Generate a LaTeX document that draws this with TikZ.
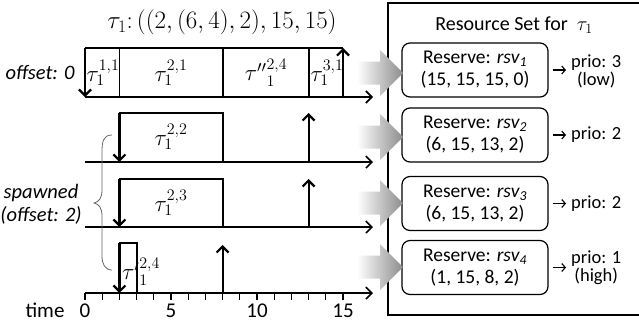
\RequirePackage{fix-cm}
\documentclass[tikz,border=0pt]{standalone}
\usepackage{fontspec}
\setmainfont{Carlito}
\usetikzlibrary{arrows.meta}
\begin{document}
\begin{tikzpicture}[x=1pt,y=-1pt,
  font=\fontsize{18}{22}\selectfont,
  box/.style={line width=1.8pt},
  evt/.style={line width=2.2pt,-{Straight Barb[length=6pt,width=12pt]}},
  axisline/.style={line width=1.6pt,-{Straight Barb[length=6pt,width=12pt]}},
  tick/.style={line width=1.2pt},
  rsv/.style={draw,rounded corners=8pt,line width=1.2pt,minimum width=146pt,minimum height=54pt,align=center,inner sep=1pt,font=\fontsize{19.5}{22}\selectfont},
  mlbl/.style={font=\fontsize{23}{24}\selectfont,inner sep=0pt},
  side/.style={font=\fontsize{20.5}{23}\selectfont\itshape,align=center,inner sep=0pt},
  prio/.style={anchor=west,align=center,inner sep=0pt,font=\fontsize{18.5}{18}\selectfont},
  prioarrow/.style={line width=1.1pt,-{Straight Barb[length=3.5pt,width=8pt]}},
  bigarrow/.style={left color=white,right color=black!45}]
\useasboundingbox (0,0) rectangle (639,325);

% title
\node[font=\fontsize{25}{26}\selectfont,inner sep=0pt] (title) at (222,22) {$\tau_1{:}\,((2,(6,4),2),15,15)$};

% ---------- row 1 ----------
\coordinate (r1s) at (85,97);
\coordinate (r1e) at (373,97);
\coordinate (r1t0) at (85,48);
\coordinate (r1t15) at (343,48);
\coordinate (r1b15) at (343,97);
\draw[box] (r1t0) -- (r1t15);
\foreach \t in {2,8,13}{
  \draw[box] ({85+17.2*\t},48) -- ({85+17.2*\t},97);
}
\draw[axisline] (r1s) -- (r1e);
\draw[evt] (r1t0) -- (r1s);
\draw[evt] (r1b15) -- (r1t15);
\node[mlbl] (j11) at (103,73) {$\tau_1^{1,1}$};
\node[mlbl] (j21) at (171,73) {$\tau_1^{2,1}$};
\node[mlbl] (j24b) at (266,73) {${\tau''}^{2,4}_1$};
\node[mlbl] (j31) at (327,73) {$\tau_1^{3,1}$};
\node[side] (off0) at (40,72) {offset: 0};

% ---------- row 2 ----------
\coordinate (r2s) at (85,162);
\coordinate (r2e) at (373,162);
\coordinate (r2a) at (119.4,113);
\coordinate (r2b) at (119.4,162);
\coordinate (r2u0) at (308.6,162);
\coordinate (r2u1) at (308.6,113);
\draw[box] (r2a) -- (222.6,113) -- (222.6,162);
\draw[axisline] (r2s) -- (r2e);
\draw[evt] (r2a) -- (r2b);
\draw[evt] (r2u0) -- (r2u1);
\node[mlbl] (j22) at (171,137) {$\tau_1^{2,2}$};

% ---------- row 3 ----------
\coordinate (r3s) at (85,227);
\coordinate (r3e) at (373,227);
\coordinate (r3a) at (119.4,179);
\coordinate (r3b) at (119.4,227);
\coordinate (r3u0) at (308.6,227);
\coordinate (r3u1) at (308.6,179);
\draw[box] (r3a) -- (222.6,179) -- (222.6,227);
\draw[axisline] (r3s) -- (r3e);
\draw[evt] (r3a) -- (r3b);
\draw[evt] (r3u0) -- (r3u1);
\node[mlbl] (j23) at (171,203) {$\tau_1^{2,3}$};

% ---------- row 4 / time axis ----------
\coordinate (r4s) at (85,293);
\coordinate (r4e) at (373,293);
\coordinate (r4a) at (119.4,243);
\coordinate (r4b) at (119.4,293);
\coordinate (r4u0) at (222.6,293);
\coordinate (r4u1) at (222.6,245);
\draw[box] (r4a) -- (136.6,243) -- (136.6,293);
\draw[axisline] (r4s) -- (r4e);
\foreach \t in {0,...,15}{
  \draw[tick] ({85+17.2*\t},293) -- ({85+17.2*\t},300);
}
\draw[evt] (r4a) -- (r4b);
\draw[evt] (r4u0) -- (r4u1);
\node[mlbl] (j24a) at (141,272) {${\tau'}^{2,4}_1$};
\foreach \t in {0,5,10,15}{
  \node[font=\fontsize{21}{22}\selectfont] (n\t) at ({85+17.2*\t},311) {\t};
}
\node[font=\fontsize{21}{22}\selectfont] (time) at (45,310) {time};

% spawned brace
\node[side] (spawn) at (41,204) {spawned\\(offset: 2)};
\draw[black!60,line width=0.8pt] (112,135) .. controls (103,135) and (102,142) .. (102,152)
  -- (102,190) .. controls (102,198) and (99,202) .. (94,203)
  .. controls (99,204) and (102,208) .. (102,216)
  -- (102,256) .. controls (102,264) and (105,270) .. (112,270);

% ---------- resource set ----------
\draw[line width=1.2pt] (388,3) rectangle (650,315);
\node[font=\fontsize{20}{22}\selectfont] (rstitle) at (514,25) {Resource Set for \ $\tau_1$};

\node[rsv] (rsv1) at (475,70) {Reserve: \textit{rsv\textsubscript{1}}\\(15, 15, 15, 0)};
\node[rsv] (rsv2) at (475,135) {Reserve: \textit{rsv\textsubscript{2}}\\(6, 15, 13, 2)};
\node[rsv] (rsv3) at (475,203.5) {Reserve: \textit{rsv\textsubscript{3}}\\(6, 15, 13, 2)};
\node[rsv] (rsv4) at (475,267.5) {Reserve: \textit{rsv\textsubscript{4}}\\(1, 15, 8, 2)};

\node[prio] (p1) at (571,71) {prio: 3\\(low)};
\node[prio] (p2) at (571,135) {prio: 2};
\node[prio] (p3) at (571,203.5) {prio: 2};
\node[prio] (p4) at (571,267.5) {prio: 1\\(high)};
\foreach \i in {1,2,3,4}{
  \draw[prioarrow] ([xshift=4pt]rsv\i.east) -- ([xshift=-5pt]p\i.west |- rsv\i.east);
}

% big gray arrows
\foreach \c/\r in {73/1,137/2,203/3,267/4}{
  \shade[bigarrow] (357,{\c-11.5}) -- (380,{\c-11.5}) -- (380,{\c-23}) -- (403,\c)
    -- (380,{\c+23}) -- (380,{\c+11.5}) -- (357,{\c+11.5}) -- cycle;
}
\end{tikzpicture}
\end{document}
